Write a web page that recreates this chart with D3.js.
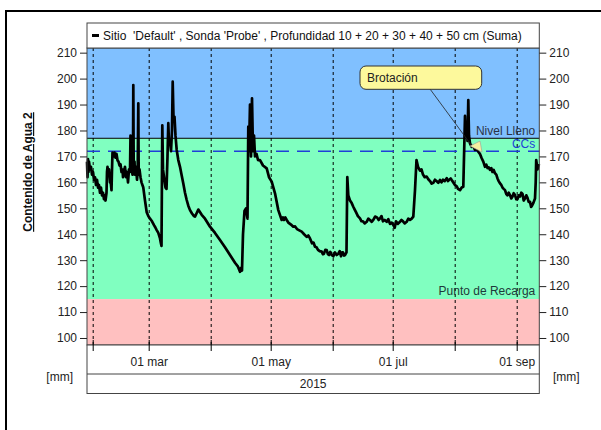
<!DOCTYPE html>
<html>
<head>
<meta charset="utf-8">
<script src="https://cdn.jsdelivr.net/npm/d3@7"></script>
<style>
  html, body { margin: 0; padding: 0; background: #fff; }
  svg { display: block; font-family: "Liberation Sans", Arial, sans-serif; }
</style>
</head>
<body>
<svg id="chart" width="601" height="430"></svg>
<script>
// Soil water content (sum of 10–50 cm): day of year 2015 and value in mm
const dayOfYear = [
  29.15, 29.4, 29.65, 29.9, 30.15, 30.65, 31.15, 31.65, 32.15, 32.65,
  33.15, 33.65, 34.15, 34.65, 35.15, 35.65, 36.15, 36.65, 37.15, 37.65,
  38.15, 38.4, 38.9, 39.15, 39.4, 39.9, 40.15, 40.65, 40.9, 41.4,
  41.65, 41.9, 42.4, 42.9, 43.4, 43.9, 44.4, 44.9, 45.4, 45.9,
  46.4, 46.9, 47.15, 47.65, 48.15, 48.65, 49.15, 49.65, 50.15, 50.65,
  50.9, 51.15, 51.4, 51.9, 52.15, 52.3, 52.5, 52.9, 53.15, 53.65,
  54.15, 54.5, 54.8, 55.0, 55.4, 55.9, 56.4,
  57.3, 58.15, 59, 59.8, 60.65, 61.65, 62.65, 63.4, 64, 64.8,
  65.65, 66.1, 66.4, 66.8, 67.15, 67.65, 68.4, 68.9, 69.4, 69.8,
  70.15, 70.65, 71.15, 71.65, 72, 72.4, 72.9, 73.4, 74, 74.8,
  75.65, 76.4, 77.3, 78.15, 79, 79.8, 80.65, 81.65, 82.65, 83.15,
  83.9, 84.8, 86.5, 88.15, 90.65, 93.15, 95.65, 98.15, 100.65, 103.15,
  104.65, 105.65, 106.15, 106.65, 107.15, 107.9, 108.65, 109.4, 109.8, 110.15,
  110.65, 111.15, 111.65, 112.15, 112.65, 113.15, 113.9, 114.65, 115.65, 117.15,
  119, 120.15, 121.5, 123.15, 124.8, 126.5, 127.15, 127.65, 128.3, 129,
  129.8, 130.65, 131.5, 132.3, 133.2, 134.15, 135.3, 136.5, 137.7, 139,
  139.8, 140.65, 141.65, 142.4, 143.15, 143.9, 144.65, 145.5, 146.5, 147.1,
  147.65, 148.3, 149, 149.6, 150.15, 150.8, 151.5, 152.3, 153.15, 154,
  154.8, 155.5, 156.15, 156.7, 157.15, 157.7, 158.15, 158.9, 159.3, 159.8,
  160.65, 161.5, 162.3, 163, 163.65, 164.6, 165.65, 166.4, 167.15, 168,
  169, 169.8, 170.65, 171.5, 172.3, 173.2, 174.15, 175, 175.65, 176.4,
  177.15, 178, 179, 179.8, 180.65, 181.5, 182.3, 183, 183.65, 184.6,
  185.65, 186.4, 187.15, 188, 189, 189.8, 190.65, 191.5, 192.3, 193.15,
  193.9, 194.65, 195.65, 196.4, 197.15, 198, 199, 199.8, 200.65, 201.5,
  202.3, 203.1, 203.9, 204.8, 205.65, 206.4, 207.15, 208, 209, 209.6,
  210.15, 211, 211.5, 212.3, 213.15, 214, 214.65, 215.65, 216.5, 217.3,
  217.9, 218.15, 218.5, 219, 219.4, 219.8, 220.15, 220.65, 221.5, 222.3,
  223.15, 224, 224.8, 225.6, 226.5, 227.3, 228.15, 228.8, 229.4, 230,
  230.65, 231.3, 231.9, 232.5, 233.15, 233.8, 234.4, 235, 235.65, 236.3,
  236.9, 237.5, 238.15, 238.8, 239.4, 240, 240.65, 241.3, 241.9, 242.5,
  243.15, 243.8, 244.4, 245, 245.65, 246.3, 246.9, 247.5, 248.15, 248.8,
  249.4, 250, 250.65, 251.2, 251.65, 252.3, 253.15, 253.5, 253.75, 254.4, 255.15
];
const waterContent = [
  168, 162, 169, 164, 168, 165, 166, 163, 164, 161,
  162, 159, 161, 158, 159, 156, 158, 155, 156, 153.5,
  155, 153, 156, 164, 166, 163, 165, 160, 161, 157,
  165, 171.5, 170, 171.5, 169.5, 171, 168.5, 168, 166.5, 167,
  164, 165, 162, 164, 166, 162, 164, 160, 165, 164,
  178, 165, 167, 163, 168, 197.5, 166, 168, 163, 166,
  161, 164, 190.5, 163, 165, 162, 160,
  158, 153, 148.5, 147, 146, 145, 143.5, 142.5, 141.6, 140.5,
  138.4, 136.5, 135.5, 182, 165, 162, 158, 157.5, 170, 182.8,
  175, 176, 172, 180, 198.8, 185, 185.3, 178, 172.5, 168.6,
  166, 163, 159.6, 156, 153.2, 151, 149.3, 148, 147, 146.8,
  148, 149.5, 147.5, 146, 142.9, 140.5, 137.8, 135, 132, 129,
  127.5, 125.5, 127, 126, 140, 149, 150, 146, 181.5, 172,
  190, 170, 192.4, 172, 178, 170, 171, 168.6, 168.6, 166.5,
  165.4, 162, 160.3, 155.8, 149.3, 145.5, 146.5, 145.5, 146.5, 145.5,
  144.5, 144, 143.5, 142.9, 143, 142, 141.5, 141, 140, 139,
  139.5, 138.4, 136.5, 136.8, 135.2, 135, 134, 133.5, 133.3, 132.3,
  132.5, 134, 133.9, 132.3, 132, 133.2, 132, 131.5, 133, 132,
  132.5, 133.5, 131.5, 133, 133, 131.8, 132, 133, 162, 155,
  153, 152, 150.6, 149.5, 148.5, 147, 146.1, 145, 145, 144.2,
  144.8, 146, 145.5, 144.8, 145.5, 146.8, 146.5, 145.5, 146.1, 147,
  145, 145.5, 144.8, 145.8, 144, 144.5, 143.6, 142.5, 145, 144,
  144.8, 145.5, 145, 144.2, 144.8, 146, 145.5, 146, 146.8, 157,
  168.6, 166, 164.5, 165, 163, 162, 162.2, 161.2, 160.5, 159.5,
  159.8, 161, 160.5, 159.8, 160.9, 160, 161, 160.5, 161.6, 160.5,
  161, 161.5, 160.9, 160, 159, 158.5, 157.5, 157, 158, 158.3,
  177.6, 185.6, 178, 182.8, 176, 191.7, 178, 175, 173.7, 174,
  172.5, 172.8, 171.8, 171, 169.3, 168, 166, 166.8, 165.5, 165.8,
  164.8, 165.5, 164, 164.8, 163.5, 163, 161.5, 160.5, 159.6, 159,
  158, 157.5, 157, 155.5, 155, 156, 155.1, 153.8, 154.5, 155.8,
  155.1, 153.5, 153.5, 155, 154.5, 156, 155.5, 153, 153.8, 155,
  154, 152.5, 152.5, 150.5, 151, 152, 153.8, 160, 168.6, 165, 167
];

// Axis tick values and labels
const yTicks = [100, 110, 120, 130, 140, 150, 160, 170, 180, 190, 200, 210];
const monthTicks = ["2015-02-01", "2015-03-01", "2015-04-01", "2015-05-01",
                    "2015-06-01", "2015-07-01", "2015-08-01", "2015-09-01"];
const monthLabels = ["2015-03-01", "2015-05-01", "2015-07-01", "2015-09-01"];
const monthNames = ["ene", "feb", "mar", "abr", "may", "jun", "jul", "ago", "sep", "oct", "nov", "dic"];
const yearLabel = "2015";

// Reference levels (mm)
const fullLevel = 177;      // Nivel Lleno
const fieldCapacity = 172;  // CCs
const refillPoint = 115;    // Punto de Recarga

// Annotated event
const noteText = "Brotación";
const noteDay = 220.65;
const noteValue = 174;

const legendText = "Sitio  'Default' , Sonda 'Probe' , Profundidad 10 + 20 + 30 + 40 + 50 cm (Suma)";
const yTitle = "Contenido de Agua 2";
const unitLabel = "[mm]";

const svg = d3.select("#chart");
const M = { left: 87, right: 539.3, top: 48, bottom: 345 };
const W = M.right - M.left, H = M.bottom - M.top;

const toDate = d => new Date(Date.UTC(2015, 0, 1) + (d - 1) * 864e5);
const parse = d3.utcParse("%Y-%m-%d");

const x = d3.scaleUtc().domain([toDate(29.15), toDate(255.3)]).range([M.left, M.right]);
const y = d3.scaleLinear().domain([97.3, 211.8]).range([M.bottom, M.top]);

// Outer frame
svg.append("path").attr("d", "M6,440V11H612")
  .attr("fill", "none").attr("stroke", "#000").attr("stroke-width", 2);

// Background bands
const bands = [
  { lo: fullLevel, hi: 211.8, fill: "#80c0ff" },
  { lo: refillPoint, hi: fullLevel, fill: "#80ffc0" },
  { lo: 97.3, hi: refillPoint, fill: "#ffc0c0" }
];
svg.append("g").selectAll("rect").data(bands).join("rect")
  .attr("x", M.left).attr("width", W)
  .attr("y", d => y(d.hi)).attr("height", d => y(d.lo) - y(d.hi))
  .attr("fill", d => d.fill);

// Month gridlines (dashed), running slightly below the plot
svg.append("g").attr("transform", `translate(0,${M.top})`)
  .call(d3.axisBottom(x).tickValues(monthTicks.map(parse)).tickSize(H + 6).tickFormat(""))
  .call(g => g.select(".domain").remove())
  .call(g => g.selectAll(".tick line").attr("stroke", "#000").attr("stroke-dasharray", "3,3"));

// Level lines
svg.append("line").attr("x1", M.left).attr("x2", M.right)
  .attr("y1", y(fullLevel)).attr("y2", y(fullLevel))
  .attr("stroke", "#000").attr("stroke-width", 1);
svg.append("line").attr("x1", M.left).attr("x2", M.right)
  .attr("y1", y(fieldCapacity)).attr("y2", y(fieldCapacity))
  .attr("stroke", "#1f3fd8").attr("stroke-width", 1.4).attr("stroke-dasharray", "13,8");

svg.append("text").attr("x", M.right - 4).attr("y", y(fullLevel) - 3)
  .attr("text-anchor", "end").attr("font-size", 12).attr("fill", "#2b3346").text("Nivel Lleno");
svg.append("text").attr("x", M.right - 4).attr("y", y(fieldCapacity) - 3)
  .attr("text-anchor", "end").attr("font-size", 12).attr("fill", "#1f3fd8").text("CCs");
svg.append("text").attr("x", M.right - 4).attr("y", y(refillPoint) - 4)
  .attr("text-anchor", "end").attr("font-size", 12).attr("fill", "#1f3a3a").text("Punto de Recarga");

// Water content series
const series = dayOfYear.map((d, i) => ({ date: toDate(d), v: waterContent[i] }))
  .filter(d => d.v != null);
svg.append("path").datum(series)
  .attr("fill", "none").attr("stroke", "#000").attr("stroke-width", 2.7)
  .attr("stroke-linejoin", "round")
  .attr("d", d3.line().x(d => x(d.date)).y(d => y(d.v)));

// Plot frame
svg.append("rect").attr("x", M.left).attr("y", M.top).attr("width", W).attr("height", H)
  .attr("fill", "none").attr("stroke", "#444").attr("stroke-width", 1);

// Legend box
svg.append("rect").attr("x", M.left).attr("y", 23).attr("width", W).attr("height", M.top - 23)
  .attr("fill", "#fff").attr("stroke", "#444");
svg.append("rect").attr("x", 92).attr("y", 34).attr("width", 7).attr("height", 3).attr("fill", "#000");
svg.append("text").attr("x", 103).attr("y", 40).attr("font-size", 12).attr("fill", "#111")
  .style("white-space", "pre").text(legendText);

// Y axes
const yAxisStyle = g => {
  g.select(".domain").remove();
  g.selectAll(".tick line").attr("stroke", "#222");
  g.selectAll(".tick text").attr("font-size", 12).attr("fill", "#222")
    .attr("font-family", "Liberation Sans, Arial, sans-serif");
};
svg.append("g").attr("transform", `translate(${M.left},0)`)
  .call(d3.axisLeft(y).tickValues(yTicks).tickSize(7).tickPadding(3)).call(yAxisStyle);
svg.append("g").attr("transform", `translate(${M.right},0)`)
  .call(d3.axisRight(y).tickValues(yTicks).tickSize(7).tickPadding(3)).call(yAxisStyle);

// Y title
svg.append("text")
  .attr("transform", `translate(32,172) rotate(-90)`)
  .attr("text-anchor", "middle").attr("font-size", 12).attr("font-weight", "bold")
  .attr("text-decoration", "underline").attr("fill", "#111").text(yTitle);

// Time axis box
svg.append("rect").attr("x", M.left).attr("y", M.bottom).attr("width", W).attr("height", 48.5)
  .attr("fill", "#fff").attr("stroke", "#444");
svg.append("line").attr("x1", M.left).attr("x2", M.right).attr("y1", 374).attr("y2", 374)
  .attr("stroke", "#444");

// Month tick marks crossing the lower border
svg.append("g").attr("transform", `translate(0,${M.bottom - 5})`)
  .call(d3.axisBottom(x).tickValues(monthTicks.map(parse)).tickSize(11).tickFormat(""))
  .call(g => g.select(".domain").remove())
  .call(g => g.selectAll(".tick line").attr("stroke", "#000"));

// Month labels
const fmtDay = d3.utcFormat("%d");
svg.append("g").attr("transform", `translate(0,${M.bottom})`)
  .call(d3.axisBottom(x).tickValues(monthLabels.map(parse)).tickSize(0).tickPadding(12)
    .tickFormat(d => fmtDay(d) + " " + monthNames[d.getUTCMonth()]))
  .call(g => g.select(".domain").remove())
  .call(g => g.selectAll(".tick text").attr("font-size", 12).attr("fill", "#222")
    .attr("font-family", "Liberation Sans, Arial, sans-serif"));

svg.append("text").attr("x", (M.left + M.right) / 2).attr("y", 388)
  .attr("text-anchor", "middle").attr("font-size", 12).attr("fill", "#222").text(yearLabel);

svg.append("text").attr("x", 73).attr("y", 381).attr("text-anchor", "end")
  .attr("font-size", 12).attr("fill", "#222").text(unitLabel);
svg.append("text").attr("x", 553).attr("y", 381)
  .attr("font-size", 12).attr("fill", "#222").text(unitLabel);

// Annotation callout
const ax = x(toDate(noteDay)), ay = y(noteValue);
svg.append("line").attr("x1", 430).attr("y1", 89).attr("x2", ax + 2).attr("y2", ay)
  .attr("stroke", "#222").attr("stroke-width", 0.8);
svg.append("path")
  .attr("d", `M${ax},${ay}l10,-5l2,11z`)
  .attr("fill", "#f4f0a0").attr("stroke", "#999").attr("stroke-width", 0.6);
svg.append("rect").attr("x", 360).attr("y", 66).attr("width", 121.7).attr("height", 23.3)
  .attr("rx", 6).attr("fill", "#fdf99c").attr("stroke", "#333").attr("stroke-width", 1);
svg.append("text").attr("x", 367).attr("y", 82).attr("font-size", 12).attr("fill", "#222").text(noteText);
</script>
</body>
</html>
